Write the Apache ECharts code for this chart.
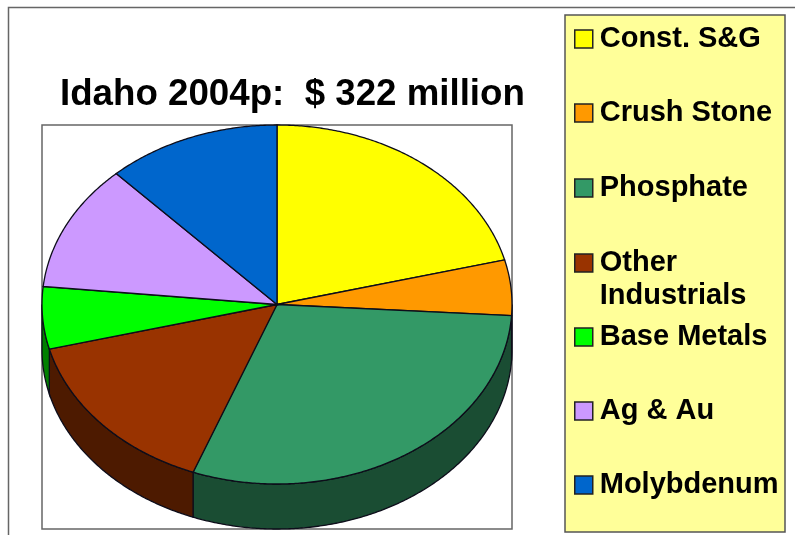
<!DOCTYPE html>
<html>
<head>
<meta charset="utf-8">
<style>
  html, body { margin: 0; padding: 0; background: #fff; }
  #chart { width: 795px; height: 535px; }
</style>
<script src="https://cdn.jsdelivr.net/npm/echarts@6/dist/echarts.min.js"></script>
</head>
<body>
<div id="chart"></div>
<script>
// values, in $ million
const categories = ['Const. S&G', 'Crush Stone', 'Phosphate', 'Other Industrials', 'Base Metals', 'Ag & Au', 'Molybdenum'];
const values = [67.6, 16, 96, 48.9, 18, 36.7, 38.6];
const legendLabels = ['Const. S&G', 'Crush Stone', 'Phosphate', '\nOther\nIndustrials', 'Base Metals', 'Ag & Au', 'Molybdenum'];
const legendCenters = [38, 112, 187, 262, 336, 410, 484];

const topColors = ['#ffff00', '#ff9900', '#339966', '#993300', '#00ff00', '#cc99ff', '#0066cc'];
const sideColors = ['#808000', '#804d00', '#1a4d33', '#4d1a00', '#008000', '#664d80', '#003366'];

const FONT = '"Liberation Sans", Arial, sans-serif';
const CX = 277, CY = 304.5, RX = 235, RY = 179.5, DEPTH = 45;
const total = values.reduce((a, b) => a + b, 0);

// angle in degrees, clockwise from 12 o'clock
function rimPoint(deg, dy) {
  const t = deg * Math.PI / 180;
  return [CX + RX * Math.sin(t), CY - RY * Math.cos(t) + dy];
}

function arc(from, to, dy) {
  const pts = [];
  const steps = Math.max(2, Math.ceil((to - from) * 2));
  for (let i = 0; i <= steps; i++) pts.push(rimPoint(from + (to - from) * i / steps, dy));
  return pts;
}

function sliceRenderer(index) {
  const start = values.slice(0, index).reduce((a, b) => a + b, 0) / total * 360;
  const end = start + values[index] / total * 360;
  return (params, api) => {
    const children = [];
    const from = Math.max(start, 90), to = Math.min(end, 270);
    if (to > from) {
      children.push({
        type: 'polygon',
        z2: 1,
        shape: { points: arc(from, to, 0).concat(arc(from, to, DEPTH).reverse()) },
        style: { fill: sideColors[index], stroke: '#0d0d1a', lineWidth: 1.3 }
      });
    }
    children.push({
      type: 'polygon',
      z2: 2,
      shape: { points: [[CX, CY]].concat(arc(start, end, 0)) },
      style: { fill: api.visual('color'), stroke: '#0d0d1a', lineWidth: 1.3 }
    });
    return { type: 'group', children };
  };
}

const chart = echarts.init(document.getElementById('chart'), null, { renderer: 'canvas' });

chart.setOption({
  animation: false,
  backgroundColor: '#fff',
  title: {
    text: 'Idaho 2004p:  $ 322 million',
    left: 60,
    top: 76,
    padding: 0,
    textStyle: { fontFamily: FONT, fontWeight: 'bold', fontSize: 36.7, color: '#000', lineHeight: 38 }
  },
  legend: categories.map((name, i) => ({
    data: [name],
    orient: 'vertical',
    left: 574,
    top: legendCenters[i] - (i === 3 ? 49.5 : 16.5),
    padding: 0,
    itemWidth: 18,
    itemHeight: 18,
    itemGap: 0,
    selectedMode: false,
    icon: 'rect',
    formatter: () => legendLabels[i],
    itemStyle: { borderColor: '#222', borderWidth: 1.5 },
    textStyle: { fontFamily: FONT, fontWeight: 'bold', fontSize: 29, color: '#000', lineHeight: 33, padding: [2, 0, 0, 2] }
  })),
  graphic: [
    { type: 'polyline', silent: true, shape: { points: [[8.5, 535], [8.5, 7.5], [795, 7.5]] }, style: { stroke: '#666', lineWidth: 1.5, fill: null } },
    { type: 'rect', silent: true, shape: { x: 42, y: 125, width: 470, height: 404 }, style: { fill: '#fff', stroke: '#666', lineWidth: 1.5 } },
    { type: 'rect', silent: true, shape: { x: 565, y: 15, width: 220, height: 517 }, style: { fill: '#ffff99', stroke: '#555', lineWidth: 1.5 } }
  ],
  series: categories.map((name, i) => ({
    type: 'custom',
    name,
    coordinateSystem: 'none',
    silent: true,
    z: 3,
    itemStyle: { color: topColors[i] },
    data: [[values[i]]],
    renderItem: sliceRenderer(i)
  }))
});
</script>
</body>
</html>
